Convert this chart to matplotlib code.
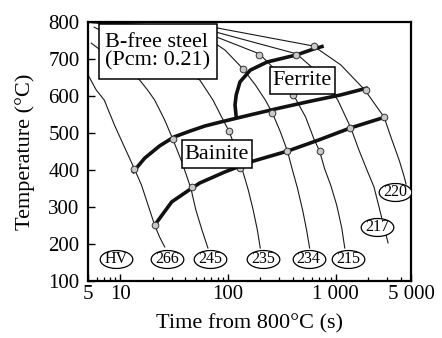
import matplotlib
matplotlib.use("Agg")
import matplotlib.pyplot as plt
from matplotlib.ticker import FixedLocator, NullFormatter
from matplotlib.path import Path
from matplotlib.transforms import Affine2D
from matplotlib.patches import Rectangle

plt.rcParams['font.family'] = ['Liberation Serif', 'DejaVu Serif']

# ---- cooling curves: time (s) and temperature (°C) ----
c266_t = [5.0, 5.97, 7.08, 8.79, 10.9, 13.5, 15.7, 18.7, 20.8, 23.1, 25.8]
c266_T = [657, 616, 589, 522, 462, 403, 359, 292, 251, 219, 192]

c245_t = [5.36, 15.1, 17.9, 20.8, 25.8, 30.6, 37.2, 45.1, 50.2, 57.2, 65.0]
c245_T = [743, 643, 616, 589, 535, 484, 422, 351, 292, 238, 189]

c235_t = [5.71, 54.7, 72.4, 87.9, 102, 119, 135, 154, 171, 187, 199]
c235_T = [786, 643, 589, 541, 505, 454, 403, 346, 292, 238, 189]

c234_t = [5.5, 54.7, 93.8, 138, 179, 222, 258, 306, 356, 396, 441, 492, 536, 572]
c234_T = [798, 770, 724, 673, 630, 589, 554, 503, 451, 400, 351, 292, 238, 189]

c215_t = [5.5, 78.9, 195, 306, 405, 525, 623, 708, 789, 898, 1021, 1138, 1213]
c215_T = [800, 759, 714, 657, 603, 543, 486, 451, 403, 359, 305, 243, 189]

c217_t = [5.5, 78.9, 432, 724, 1045, 1380, 1641, 1950, 2266, 2636, 3062]
c217_T = [800, 772, 714, 657, 589, 514, 454, 400, 354, 278, 203]

c220_t = [5.5, 78.9, 622, 1114, 1866, 2811, 3300, 3900, 4300, 4500]
c220_T = [800, 784, 735, 684, 616, 543, 484, 425, 384, 362]

cooling_t = [c266_t, c245_t, c235_t, c234_t, c215_t, c217_t, c220_t]
cooling_T = [c266_T, c245_T, c235_T, c234_T, c215_T, c217_T, c220_T]

# ---- transformation lines ----
upper_t = [12.9, 16.8, 23.1, 31.3, 44.1, 61.0, 86.1, 161, 306, 584, 1114, 1990]
upper_T = [392, 432, 465, 489, 505, 519, 530, 549, 568, 586, 603, 622]

lower_t = [20.8, 30.0, 46.1, 54.7, 93.8, 171, 356, 693, 1380, 2870]
lower_T = [251, 314, 351, 365, 395, 424, 451, 481, 514, 543]

ferrite_t = [119, 116, 119, 129, 161, 231, 432, 622, 773]
ferrite_T = [543, 576, 603, 638, 670, 692, 711, 727, 735]

# ---- measured points ----
pts_t = [13.5, 20.8, 30.9, 46.1, 102, 129, 138, 195, 258, 356, 405, 432, 622, 708, 1350, 1900, 2811]
pts_T = [403, 251, 484, 354, 505, 405, 673, 711, 554, 451, 603, 711, 735, 451, 514, 616, 543]

# ---- hardness labels ----
hv_text = ['HV', '266', '245', '235', '234', '215', '217', '220']
hv_t = [9.18, 26.9, 67.9, 212, 560, 1294, 2415, 3556]
hv_T = [159, 159, 159, 159, 159, 159, 246, 341]

x_major = [5, 10, 100, 1000, 5000]
x_major_labels = ['5', '10', '100', '1 000', '5 000']
x_minor = [6, 7, 8, 9, 20, 30, 40, 50, 60, 70, 80, 90,
           200, 300, 400, 500, 600, 700, 800, 900, 2000, 3000, 4000]
y_ticks = [100, 200, 300, 400, 500, 600, 700, 800]

fig = plt.figure(figsize=(4.42, 3.38), dpi=100)
ax = fig.add_axes([88/442, 1-281/338, 323/442, 259/338])
ax.set_xscale('log')
ax.set_xlim(5, 5000)
ax.set_ylim(100, 800)

for tt, TT in zip(cooling_t, cooling_T):
    ax.plot(tt, TT, color='#1a1a1a', lw=0.8, zorder=2, solid_joinstyle='round')

for tt, TT in [(upper_t, upper_T), (lower_t, lower_T), (ferrite_t, ferrite_T)]:
    ax.plot(tt, TT, color='#111111', lw=2.6, zorder=3,
            solid_capstyle='butt', solid_joinstyle='round')

ax.plot(pts_t, pts_T, 'o', ms=4.8, mfc='#c8c8c8', mec='#333333', mew=0.7,
        zorder=4, linestyle='none')

ell = Path.unit_circle().transformed(Affine2D().scale(1.0, 0.55))
for txt, tt, TT in zip(hv_text, hv_t, hv_T):
    ax.plot([tt], [TT], marker=ell, ms=23.5, mfc='white', mec='black',
            mew=0.9, zorder=5, linestyle='none')
    ax.text(tt, TT, txt, ha='center', va='center', fontsize=11.5, zorder=6)

def box(x0, x1, y0, y1):
    ax.add_patch(Rectangle((x0, y0), x1 - x0, y1 - y0, transform=ax.transAxes,
                           fc='white', ec='black', lw=1.1, zorder=7))

box(0.034, 0.399, 0.780, 0.992)
ax.text(0.053, 0.886, 'B-free steel\n(Pcm: 0.21)', transform=ax.transAxes,
        ha='left', va='center', fontsize=16, linespacing=0.95, zorder=8)
box(0.563, 0.765, 0.722, 0.826)
ax.text(0.664, 0.774, 'Ferrite', transform=ax.transAxes,
        ha='center', va='center', fontsize=16, zorder=8)
box(0.291, 0.508, 0.436, 0.544)
ax.text(0.399, 0.490, 'Bainite', transform=ax.transAxes,
        ha='center', va='center', fontsize=16, zorder=8)

ax.xaxis.set_major_locator(FixedLocator(x_major))
ax.set_xticklabels(x_major_labels)
ax.xaxis.set_minor_locator(FixedLocator(x_minor))
ax.xaxis.set_minor_formatter(NullFormatter())
ax.set_yticks(y_ticks)

ax.tick_params(axis='both', which='major', direction='in', length=5, width=1.0,
               labelsize=15, colors='black')
ax.tick_params(axis='x', which='major', pad=3)
ax.tick_params(axis='y', which='major', pad=6)
ax.tick_params(axis='x', which='minor', direction='in', length=3.2, width=0.9)
for s in ax.spines.values():
    s.set_linewidth(1.6)

ax.set_xlabel('Time from 800°C (s)', fontsize=16, labelpad=7)
ax.set_ylabel('Temperature (°C)', fontsize=16, labelpad=10)

fig.savefig('out.png', dpi=100)
